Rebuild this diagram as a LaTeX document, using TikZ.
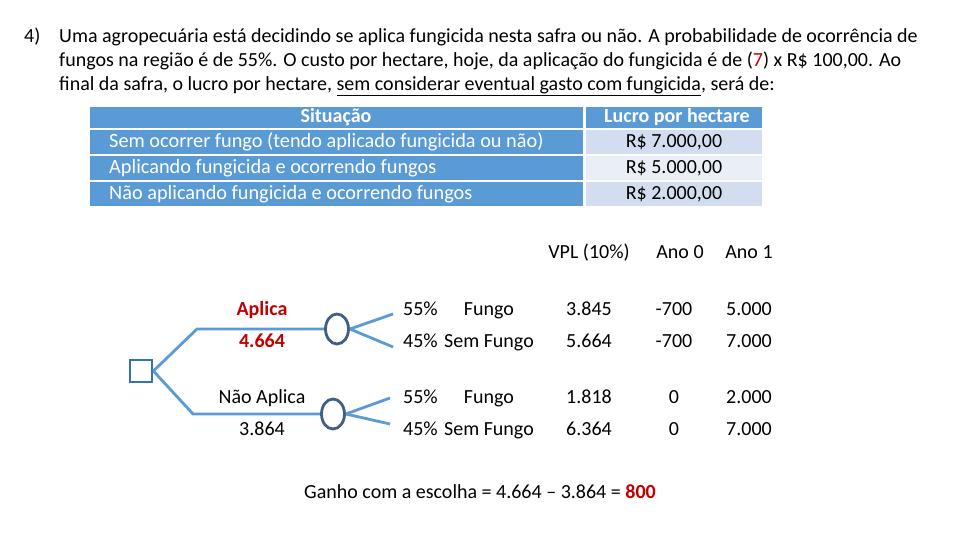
\documentclass[tikz,border=0pt]{standalone}
\usepackage{fontspec}
\setmainfont{Carlito}
\usetikzlibrary{shapes.geometric}
\definecolor{hdrblue}{HTML}{5B9BD5}
\definecolor{rowA}{HTML}{D2DEEF}
\definecolor{rowB}{HTML}{EAEFF7}
\definecolor{branchc}{HTML}{5B9BD5}
\definecolor{circc}{HTML}{41607F}
\definecolor{sqc}{HTML}{2E75B6}
\definecolor{redc}{HTML}{C00000}
\tikzset{
  para/.style={anchor=west, inner sep=0pt, font=\fontsize{20}{24}\selectfont},
  cell/.style={anchor=north west, inner sep=0pt, minimum width=#1, draw=none},
  fixh/.style={text height=16pt, text depth=4pt},
  lefttxt/.style={anchor=west, inner sep=0pt, fixh, text=white, font=\fontsize{20.3}{22}\selectfont},
  righttxt/.style={anchor=center, inner sep=0pt, fixh, text=black, font=\fontsize{20}{22}\selectfont},
  hdrtxt/.style={anchor=center, inner sep=0pt, fixh, text=white, font=\fontsize{20}{22}\selectfont\bfseries},
  tt/.style={anchor=center, inner sep=0pt, fixh, font=\fontsize{20}{22}\selectfont},
  branch/.style={draw=branchc, line width=2.8pt},
  chance/.style={ellipse, draw=circc, line width=2.8pt, minimum width=23pt, minimum height=30pt, inner sep=0pt},
  decision/.style={draw=sqc, line width=2.8pt, minimum size=22pt, inner sep=0pt},
}
\begin{document}
\begin{tikzpicture}[x=1pt,y=-1pt]
\useasboundingbox[fill=white] (0,0) rectangle (960,540);
% paragraph
\node[para] (num) at (24,37) {4)};
\node[para] (p1) at (59,37) {Uma agropecuária está decidindo se aplica fungicida nesta safra ou não. A probabilidade de ocorrência de};
\node[para] (p2) at (59,61) {fungos na região é de 55\%. O custo por hectare, hoje, da aplicação do fungicida é de (\textcolor{redc}{7}) x R\$ 100,00. Ao};
\node[para] (p3) at (59,86) {final da safra, o lucro por hectare, \underline{sem considerar eventual gasto com fungicida}, será de:};
% table
\node[cell=493pt, minimum height=21pt, fill=hdrblue] (h1) at (90,107) {};
\node[cell=176pt, minimum height=21pt, fill=hdrblue] (h2) at (586,107) {};
\node[cell=493pt, minimum height=24pt, fill=hdrblue] (l1) at (90,130) {};
\node[cell=176pt, minimum height=24pt, fill=rowA] (r1) at (586,130) {};
\node[cell=493pt, minimum height=24pt, fill=hdrblue] (l2) at (90,156) {};
\node[cell=176pt, minimum height=24pt, fill=rowB] (r2) at (586,156) {};
\node[cell=493pt, minimum height=24pt, fill=hdrblue] (l3) at (90,182) {};
\node[cell=176pt, minimum height=24pt, fill=rowA] (r3) at (586,182) {};
\node[hdrtxt] (th1) at (336,117) {Situação};
\node[hdrtxt] (th2) at (677,117) {Lucro por hectare};
\node[lefttxt] (t1) at (109,142) {Sem ocorrer fungo (tendo aplicado fungicida ou não)};
\node[lefttxt] (t2) at (109,168) {Aplicando fungicida e ocorrendo fungos};
\node[lefttxt] (t3) at (109,194) {Não aplicando fungicida e ocorrendo fungos};
\node[righttxt] (v1) at (674,142) {R\$ 7.000,00};
\node[righttxt] (v2) at (674,168) {R\$ 5.000,00};
\node[righttxt] (v3) at (674,194) {R\$ 2.000,00};
% column headers
\node[tt] (cv) at (589,252) {VPL (10\%)};
\node[tt] (c0) at (680,252) {Ano 0};
\node[tt] (c1h) at (749,252) {Ano 1};
% tree
\node[decision] (sq) at (141,371) {};
\node[chance] (ch1) at (337,329) {};
\node[chance] (ch2) at (333,414) {};
\coordinate (b1) at (197,329);
\coordinate (b2) at (193,414);
\coordinate (e11) at (393,314);
\coordinate (e12) at (393,347);
\coordinate (e21) at (390,398);
\coordinate (e22) at (390,424);
\draw[branch] (sq.east) -- (b1) -- (ch1.west);
\draw[branch] (sq.east) -- (b2) -- (ch2.west);
\draw[branch] (ch1.east) -- (e11);
\draw[branch] (ch1.east) -- (e12);
\draw[branch] (ch2.east) -- (e21);
\draw[branch] (ch2.east) -- (e22);
% labels
\node[tt, text=redc, font=\fontsize{20}{22}\selectfont\bfseries] (ap) at (262,309) {Aplica};
\node[tt, text=redc, font=\fontsize{20}{22}\selectfont\bfseries] (apv) at (262,341) {4.664};
\node[tt] (nap) at (262,397) {Não Aplica};
\node[tt] (napv) at (262,429) {3.864};
% probability rows
\node[tt, anchor=west] (p11) at (403,309) {55\%};
\node[tt] (f11) at (489,309) {Fungo};
\node[tt, anchor=west] (p12) at (403,341) {45\%};
\node[tt] (f12) at (489,341) {Sem Fungo};
\node[tt, anchor=west] (p21) at (403,397) {55\%};
\node[tt] (f21) at (489,397) {Fungo};
\node[tt, anchor=west] (p22) at (403,429) {45\%};
\node[tt] (f22) at (489,429) {Sem Fungo};
\node[tt] (a11) at (589,309) {3.845};
\node[tt] (a12) at (589,341) {5.664};
\node[tt] (a21) at (589,397) {1.818};
\node[tt] (a22) at (589,429) {6.364};
\node[tt] (z11) at (674,309) {-700};
\node[tt] (z12) at (674,341) {-700};
\node[tt] (z21) at (674,397) {0};
\node[tt] (z22) at (674,429) {0};
\node[tt] (y11) at (749,309) {5.000};
\node[tt] (y12) at (749,341) {7.000};
\node[tt] (y21) at (749,397) {2.000};
\node[tt] (y22) at (749,429) {7.000};
% bottom
\node[tt] (gain) at (480,492) {Ganho com a escolha = 4.664 – 3.864 = \textcolor{redc}{\bfseries 800}};
\end{tikzpicture}
\end{document}
